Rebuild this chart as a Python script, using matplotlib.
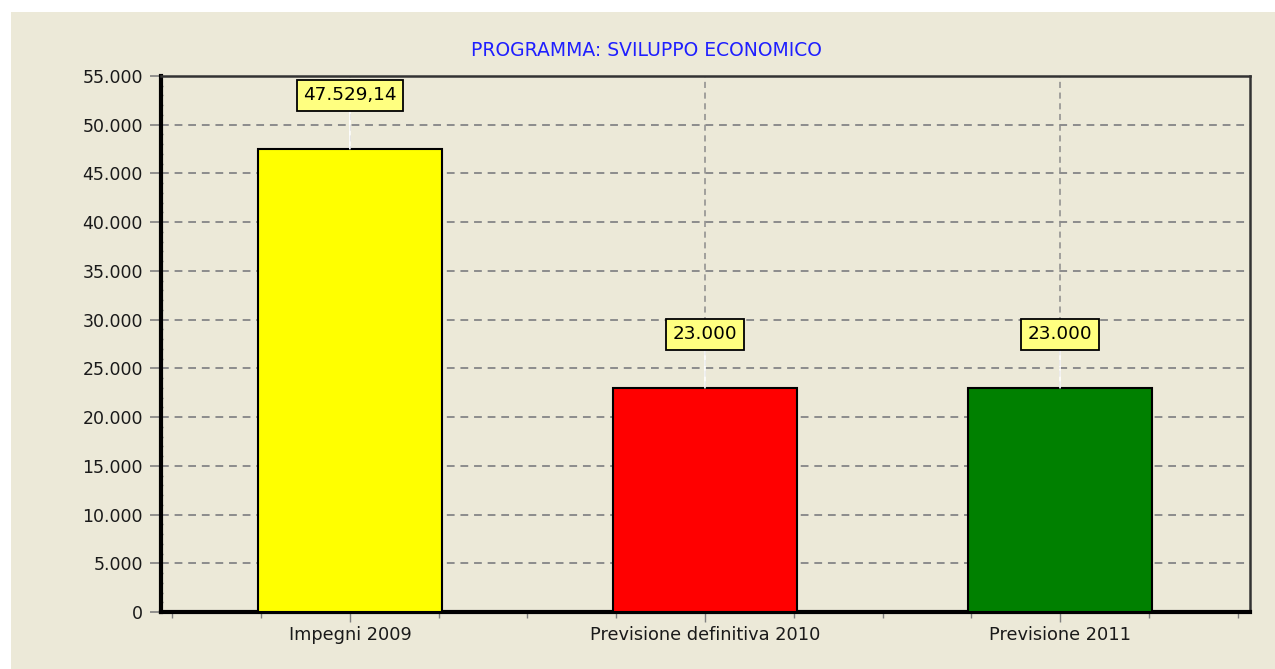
import matplotlib
matplotlib.use("Agg")
import matplotlib.pyplot as plt
from matplotlib.patches import Rectangle
from matplotlib.ticker import MultipleLocator, FuncFormatter

categories = ["Impegni 2009", "Previsione definitiva 2010", "Previsione 2011"]
values = [47529.14, 23000, 23000]
value_labels = ["47.529,14", "23.000", "23.000"]
bar_colors = ["#FFFF00", "#FF0000", "#008000"]
title = "PROGRAMMA: SVILUPPO ECONOMICO"

W, H = 1275, 669
fig = plt.figure(figsize=(W / 100, H / 100), dpi=100)
fig.patch.set_facecolor("white")
bg = "#ECE9D8"
fig.patches.append(Rectangle((11 / W, 0), 1 - 11 / W, 1 - 12 / H, transform=fig.transFigure,
                             facecolor=bg, edgecolor="none", zorder=-10))

ax = fig.add_axes([161 / W, 1 - 612 / H, (1250 - 161) / W, (612 - 76) / H])
ax.set_facecolor(bg)

x = list(range(len(categories)))
ax.bar(x, values, width=0.52, color=bar_colors, edgecolor="black", linewidth=1.5, zorder=3)

ax.set_xlim(-0.532, 2.535)
ax.set_ylim(0, 55000)

ax.yaxis.set_major_locator(MultipleLocator(5000))
ax.yaxis.set_minor_locator(MultipleLocator(1000))
ax.yaxis.set_major_formatter(FuncFormatter(lambda v, p: f"{int(v):,}".replace(",", ".")))
ax.set_xticks(x)
ax.set_xticklabels(categories)
ax.xaxis.set_minor_locator(MultipleLocator(0.25))

ax.tick_params(axis="y", which="major", length=8, width=1.2, color="#808080", labelsize=12.5,
               labelcolor="#1a1a1a", pad=5, direction="out")
ax.tick_params(axis="y", which="minor", length=3, width=1, color="#808080", direction="inout")
ax.tick_params(axis="x", which="major", length=7, width=1, color="#808080", labelsize=12.8,
               labelcolor="#1a1a1a", pad=3)
ax.tick_params(axis="x", which="minor", length=4, width=1, color="#808080")

ax.grid(axis="y", which="major", linestyle=(0, (4, 3)), color="#8C8C8C", linewidth=1.4, zorder=1)
ax.grid(axis="x", which="major", linestyle=(0, (4, 3)), color="#8C8C8C", linewidth=1.1, zorder=1)
ax.set_axisbelow(True)

ax.spines["left"].set_linewidth(3)
ax.spines["left"].set_color("black")
ax.spines["bottom"].set_linewidth(3)
ax.spines["bottom"].set_color("black")
ax.spines["top"].set_linewidth(1.8)
ax.spines["top"].set_color("#333333")
ax.spines["right"].set_linewidth(1.8)
ax.spines["right"].set_color("#333333")

for xi, v, lab in zip(x, values, value_labels):
    ax.annotate(lab, xy=(xi, v), xytext=(xi, v + 5500), ha="center", va="center",
                fontsize=13.2, color="black", zorder=5,
                bbox=dict(boxstyle="square,pad=0.35", facecolor="#FFFF80", edgecolor="black", linewidth=1.3),
                arrowprops=dict(arrowstyle="-", color="white", linewidth=1.2, shrinkA=0, shrinkB=0))

fig.text(646 / W, 1 - 50 / H, title, ha="center", va="center", color="#1F1FFF", fontsize=13.5)

fig.savefig("out.png", dpi=100, facecolor=fig.get_facecolor())
